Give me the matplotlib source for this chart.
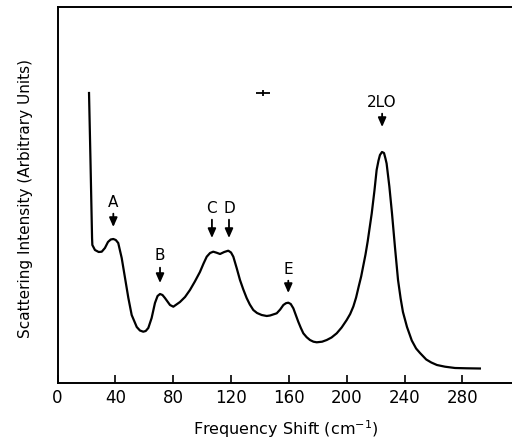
import matplotlib
matplotlib.use("Agg")
import matplotlib.pyplot as plt

# Spectrum
freq = [21.8, 22.8, 23.9, 24.1, 25.9, 28.5, 30.6, 32.8, 34.9, 36.8, 38.6, 40.3, 42.0, 44.4, 46.7,
        49.0, 51.3, 54.8, 57.0, 59.3, 61.0, 62.8, 65.1, 67.4, 69.2, 70.9, 72.6, 74.3, 77.8,
        80.1, 84.7, 88.2, 91.6, 95.0, 98.5, 101.0, 103.2, 105.5, 107.7, 110.0, 112.4, 115.3, 118.1,
        120.0, 121.6, 124.0, 126.2, 128.5, 130.8, 133.0, 135.4, 138.0, 141.2, 144.7, 147.0,
        151.6, 154.0, 156.2, 158.0, 159.6, 161.3, 163.1, 164.8, 166.5, 168.3, 170.0, 172.3,
        174.6, 177.0, 179.3, 183.0, 186.2, 189.5, 193.1, 196.5, 200.0, 202.4, 204.6, 206.5,
        208.3, 210.0, 211.5, 213.0, 214.5, 217.3, 219.2, 220.7, 222.0, 223.0, 224.4, 225.8,
        226.8, 227.6, 229.5, 231.3, 233.4, 235.5, 237.3, 238.9, 241.7, 245.0, 248.0, 250.7,
        255.0, 258.5, 262.4, 268.0, 274.9, 283.0, 292.1]
intensity = [289.5, 222.5, 144.5, 137.5, 132.5, 130.5, 130.8, 134.5, 140.5, 143.0, 143.5, 142.5,
             139.5, 124.5, 104.5, 84.5, 67.5, 55.5, 52.0, 50.8, 51.5, 54.5, 64.5, 79.5, 86.5,
             88.5, 87.5, 84.5, 77.5, 75.8, 80.5, 85.5, 92.5, 101.0, 110.5, 119.0, 125.8, 129.5,
             130.8, 129.8, 128.5, 130.5, 131.8, 130.0, 125.8, 114.0, 102.5, 93.0, 84.5, 78.0,
             72.5, 69.5, 67.5, 66.5, 67.0, 69.2, 73.0, 77.5, 79.3, 79.8, 78.5, 74.2, 67.5,
             60.8, 54.5, 49.2, 45.3, 42.5, 40.8, 40.2, 40.8, 42.5, 45.0, 49.2, 55.0, 62.5,
             68.5, 76.0, 85.0, 96.0, 106.0, 117.0, 128.0, 141.0, 169.0, 192.0, 212.5, 222.0,
             227.5, 230.5, 229.5, 224.0, 219.0, 196.0, 169.5, 135.0, 102.5, 84.0, 70.5, 55.5,
             42.0, 34.0, 29.5, 23.0, 20.0, 17.5, 15.8, 14.5, 14.2, 14.0]

# Peak markers
peak_labels = ["A", "B", "C", "D", "E", "2LO"]
peak_x = [38.6, 70.9, 106.8, 118.6, 159.6, 224.5]
arrow_tip = [155.5, 99.5, 144.5, 144.5, 89.5, 255.5]
label_y = [173.0, 119.0, 167.0, 167.0, 106.0, 273.0]

# resolution marker
res_x = 142.3
res_y = 289.5
res_xerr = 4.8
res_yerr = 3.0

xticks = [0, 40, 80, 120, 160, 200, 240, 280]

fig = plt.figure(figsize=(5.12, 4.40), dpi=100)
L, B, T = 57.5 / 512, 1 - 382.5 / 440, 1 - 7 / 440
ax = fig.add_axes([L, B, 1 - L, T - B])

ax.plot(freq, intensity, color="black", lw=1.6, solid_joinstyle="round")

for lab, x, tip, ly in zip(peak_labels, peak_x, arrow_tip, label_y):
    ax.annotate(lab, xy=(x, tip), xytext=(x, ly), ha="center", va="bottom",
                fontsize=11, family="DejaVu Sans",
                arrowprops=dict(arrowstyle="-|>,head_length=0.5,head_width=0.22",
                                color="black", lw=1.3, shrinkA=1, shrinkB=0))

ax.errorbar([res_x], [res_y], xerr=[res_xerr], yerr=[res_yerr], color="black",
            lw=1.3, capsize=0, fmt="none")

ax.set_xlim(0, (512 - 57.5) / 1.446)
ax.set_ylim(0, 375.5)
ax.set_xticks(xticks)
ax.set_xticklabels([str(t) for t in xticks])
ax.set_yticks([])
ax.tick_params(axis="x", direction="in", length=6, width=1.2, pad=5, labelsize=12)
ax.spines["right"].set_visible(False)
for s in ["left", "bottom", "top"]:
    ax.spines[s].set_linewidth(1.4)

fig.text(286 / 512, 1 - 429 / 440, "Frequency Shift (cm$^{-1}$)", ha="center", va="center",
         fontsize=11.5)
fig.text(26 / 512, 1 - 198 / 440, "Scattering Intensity (Arbitrary Units)", ha="center",
         va="center", rotation=90, fontsize=11)

fig.savefig("out.png", dpi=100)
